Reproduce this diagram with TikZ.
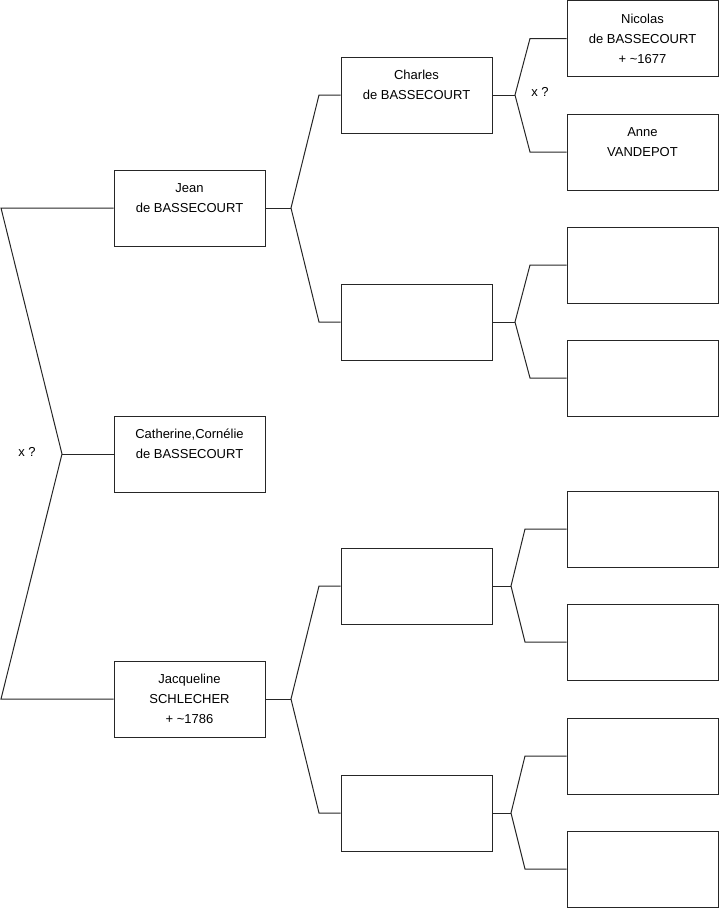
\documentclass[tikz,border=0pt]{standalone}
\usepackage{fontspec}
\setmainfont{Liberation Sans}
\begin{document}
\begin{tikzpicture}[x=1pt,y=-1pt,
  person/.style={draw=black!85,line width=1pt,minimum width=151pt,minimum height=76pt,inner sep=0pt,align=center,
    font={\fontsize{13}{20}\selectfont},anchor=center},
  link/.style={draw=black!85,line width=1pt,line join=miter},
  note/.style={font={\fontsize{13}{15}\selectfont},inner sep=0pt}]
\useasboundingbox (0,0) rectangle (719,908);
% column 1
\node[person] (jean) at (189.5,208) {Jean\\de BASSECOURT\\\mbox{}};
\node[person] (cath) at (189.5,454) {Catherine,Cornélie\\de BASSECOURT\\\mbox{}};
\node[person] (jacq) at (189.5,699) {Jacqueline\\SCHLECHER\\+ \textasciitilde1786};
% column 2
\node[person] (charles) at (416.5,95) {Charles\\de BASSECOURT\\\mbox{}};
\node[person] (e2) at (416.5,322) {\mbox{}};
\node[person] (e3) at (416.5,586) {\mbox{}};
\node[person] (e4) at (416.5,813) {\mbox{}};
% column 3
\node[person] (nicolas) at (642.5,38.5) {Nicolas\\de BASSECOURT\\+ \textasciitilde1677};
\node[person] (anne) at (642.5,152) {Anne\\VANDEPOT\\\mbox{}};
\node[person] (f3) at (642.5,265) {\mbox{}};
\node[person] (f4) at (642.5,378) {\mbox{}};
\node[person] (f5) at (642.5,529) {\mbox{}};
\node[person] (f6) at (642.5,642) {\mbox{}};
\node[person] (f7) at (642.5,756) {\mbox{}};
\node[person] (f8) at (642.5,869) {\mbox{}};
% labels
\node[note] (x0) at (27,452) {x ?};
\node[note] (x1) at (540,92) {x ?};
% coordinates
\coordinate (a0) at (1,208);
\coordinate (j0) at (62,454);
\coordinate (b0) at (1,699);
\coordinate (j1) at (291,208);
\coordinate (a1) at (319,95);
\coordinate (b1) at (319,322);
\coordinate (j2) at (291,699);
\coordinate (a2) at (319,586);
\coordinate (b2) at (319,813);
\coordinate (j3) at (515,95);
\coordinate (a3) at (530,38.5);
\coordinate (b3) at (530,152);
\coordinate (j4) at (515,322);
\coordinate (a4) at (530,265);
\coordinate (b4) at (530,378);
\coordinate (j5) at (511,586);
\coordinate (a5) at (525,529);
\coordinate (b5) at (525,642);
\coordinate (j6) at (511,813);
\coordinate (a6) at (525,756);
\coordinate (b6) at (525,869);
% connectors
\draw[link] (jean.west) -- (a0) -- (j0) -- (b0) -- (jacq.west);
\draw[link] (j0) -- (cath.west);
\draw[link] (charles.west) -- (a1) -- (j1) -- (b1) -- (e2.west);
\draw[link] (jean.east) -- (j1);
\draw[link] (e3.west) -- (a2) -- (j2) -- (b2) -- (e4.west);
\draw[link] (jacq.east) -- (j2);
\draw[link] (nicolas.west) -- (a3) -- (j3) -- (b3) -- (anne.west);
\draw[link] (charles.east) -- (j3);
\draw[link] (f3.west) -- (a4) -- (j4) -- (b4) -- (f4.west);
\draw[link] (e2.east) -- (j4);
\draw[link] (f5.west) -- (a5) -- (j5) -- (b5) -- (f6.west);
\draw[link] (e3.east) -- (j5);
\draw[link] (f7.west) -- (a6) -- (j6) -- (b6) -- (f8.west);
\draw[link] (e4.east) -- (j6);
\end{tikzpicture}
\end{document}
